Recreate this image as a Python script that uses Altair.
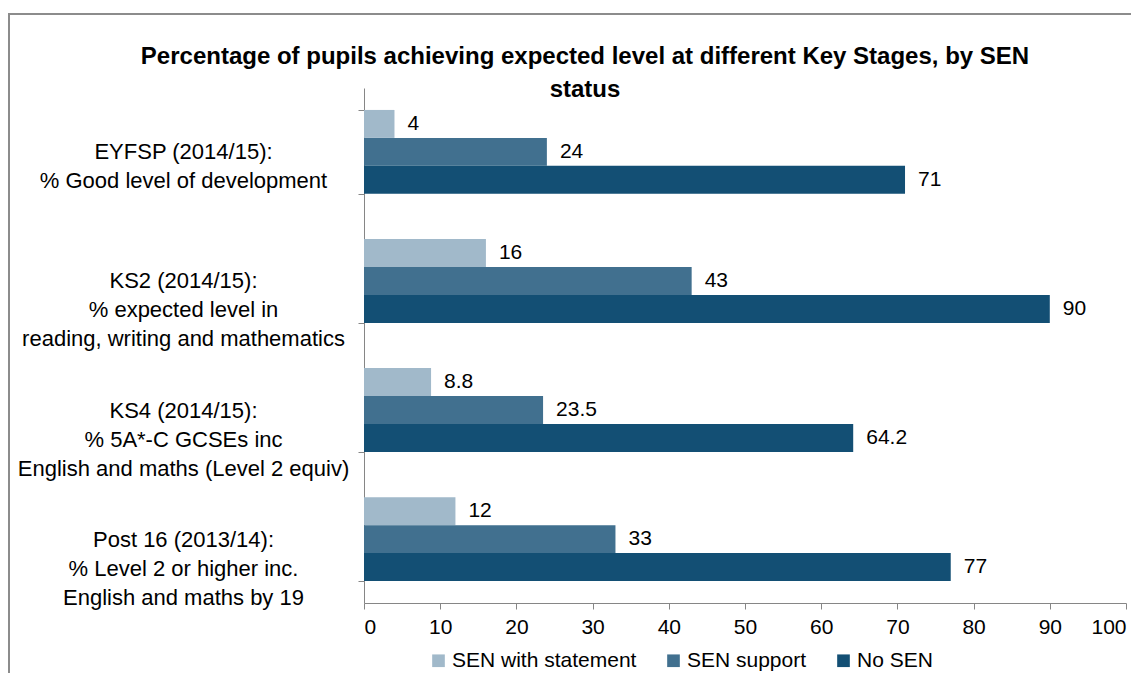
import altair as alt
import pandas as pd

categories = [
    "EYFSP (2014/15):|% Good level of development",
    "KS2 (2014/15):|% expected level in|reading, writing and mathematics",
    "KS4 (2014/15):|% 5A*-C GCSEs inc|English and maths (Level 2 equiv)",
    "Post 16 (2013/14):|% Level 2 or higher inc.|English and maths by 19",
]
series = ["SEN with statement", "SEN support", "No SEN"]
sen_statement = [4, 16, 8.8, 12]
sen_support = [24, 43, 23.5, 33]
no_sen = [71, 90, 64.2, 77]
colors = ["#a1b9ca", "#41708f", "#134f74"]

rows = []
for s, vals in zip(series, [sen_statement, sen_support, no_sen]):
    for c, v in zip(categories, vals):
        rows.append({"cat": c, "series": s, "value": v, "label": f"{v:g}"})
df = pd.DataFrame(rows)

FONT = "Liberation Sans"
W, H = 762, 515

y_enc = alt.Y(
    "cat:N", sort=categories, title=None,
    scale=alt.Scale(paddingInner=0.35, paddingOuter=0.17),
    axis=alt.Axis(
        labelExpr="split(datum.label, '|')",
        labelAlign="center", labelBaseline="middle", labelLineHeight=29,
        labelFont=FONT, labelFontSize=22, labelColor="#000000",
        labelPadding=175,
        tickBand="extent", tickSize=6, tickColor="#868686",
        domainColor="#868686", labelLimit=400,
    ),
)
yoff = alt.YOffset("series:N", sort=series, scale=alt.Scale(paddingInner=0, paddingOuter=0))

base = alt.Chart(df)

bars = base.mark_bar().encode(
    x=alt.X("value:Q", title=None,
            scale=alt.Scale(domain=[0, 100], nice=False),
            axis=alt.Axis(orient="bottom", values=list(range(0, 101, 10)), grid=False,
                          labelFont=FONT, labelFontSize=21, labelColor="#000000",
                          tickColor="#868686", domainColor="#868686",
                          tickSize=6, labelPadding=7)),
    y=y_enc,
    yOffset=yoff,
    color=alt.Color("series:N", sort=series,
                    scale=alt.Scale(domain=series, range=colors),
                    legend=alt.Legend(title=None, orient="none", direction="horizontal",
                                      legendX=64, legendY=562,
                                      symbolType="square", symbolSize=160,
                                      symbolStrokeWidth=0, labelFont=FONT,
                                      labelFontSize=21, labelColor="#000000",
                                      labelLimit=400, columnPadding=26, labelOffset=3)),
)

labels = base.mark_text(align="left", baseline="middle", dx=13,
                        font=FONT, fontSize=21, color="#000000").encode(
    x="value:Q",
    y=alt.Y("cat:N", sort=categories),
    yOffset=yoff,
    text="label:N",
)

border = base.transform_filter("datum.value == 90").mark_rect(
    fill="transparent", stroke="#8c8c8c", strokeWidth=2
).encode(
    x=alt.value(-355), x2=alt.value(900),
    y=alt.value(-74), y2=alt.value(700),
)

chart = alt.layer(border, bars, labels).properties(
    width=W, height=H,
    autosize=alt.AutoSizeParams(type="none"),
    padding={"left": 356, "top": 80, "right": 5, "bottom": 70},
    title=alt.TitleParams(
        ["Percentage of pupils achieving expected level  at different Key Stages, by SEN", "status"],
        anchor="middle", frame="group", dx=-160, offset=-89,
        font=FONT, fontSize=24, fontWeight="bold", color="#000000", lineHeight=33,
    ),
).configure(background="white").configure_view(stroke=None)

chart.save("out.html", embed_options={"renderer": "svg", "actions": False})
